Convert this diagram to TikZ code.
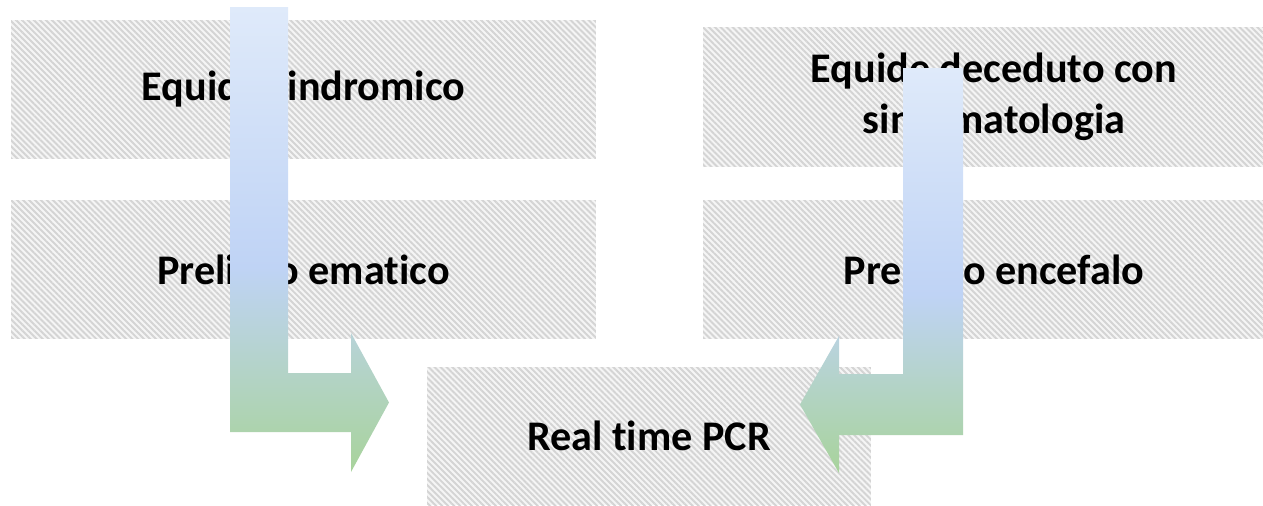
\documentclass[tikz,border=0pt]{standalone}
\usepackage{fontspec}
\setmainfont[Ligatures=NoCommon]{Carlito}
\usetikzlibrary{patterns.meta}

\definecolor{arrowtop}{RGB}{223,234,250}
\definecolor{arrowmid}{RGB}{191,211,245}
\definecolor{arrowbot}{RGB}{168,211,155}
\pgfdeclareverticalshading{flowfill}{100bp}{color(0bp)=(arrowbot); color(25bp)=(arrowbot); color(47bp)=(arrowmid); color(75bp)=(arrowtop); color(100bp)=(arrowtop)}

\begin{document}
\begin{tikzpicture}[x=0.02cm, y=-0.02cm]
    \useasboundingbox[clip] (0,0) rectangle (1263,505);
    \tikzset{StepBox/.style={rectangle, inner sep=0pt, align=center,
        fill=gray!8, postaction={pattern={Lines[angle=-45, distance=2.4pt, line width=1.1pt]}, pattern color=gray!34},
        font=\bfseries\fontsize{24}{29}\selectfont}}
    \tikzset{FlowArrow/.style={shading=flowfill, draw=none}}

    \node[StepBox, minimum width=11.7cm, minimum height=2.78cm] (sindromico) at (303.5,89.5) {Equide sindromico};
    \node[StepBox, minimum width=11.7cm, minimum height=2.78cm] (ematico) at (303.5,269.5) {Prelievo ematico};
    \node[StepBox, minimum width=11.64cm, minimum height=2.8cm] (deceduto) at (994,97) {Equide deceduto con\\sintomatologia};
    \node[StepBox, minimum width=11.64cm, minimum height=2.78cm] (encefalo) at (994,269.5) {Prelievo encefalo};
    \node[StepBox, minimum width=8.88cm, minimum height=2.76cm] (pcr) at (649,436) {Real time PCR};

    % bent arrows
    \path[FlowArrow] (230,7) -- (288,7) -- (288,373) -- (351,373) -- (351,333) -- (389,402.5)
        -- (351,472) -- (351,432) -- (230,432) -- cycle;
    \path[FlowArrow] (903,68) -- (963,68) -- (963,435) -- (839,435) -- (839,473) -- (800,404.5)
        -- (839,336) -- (839,374) -- (903,374) -- cycle;
\end{tikzpicture}
\end{document}
